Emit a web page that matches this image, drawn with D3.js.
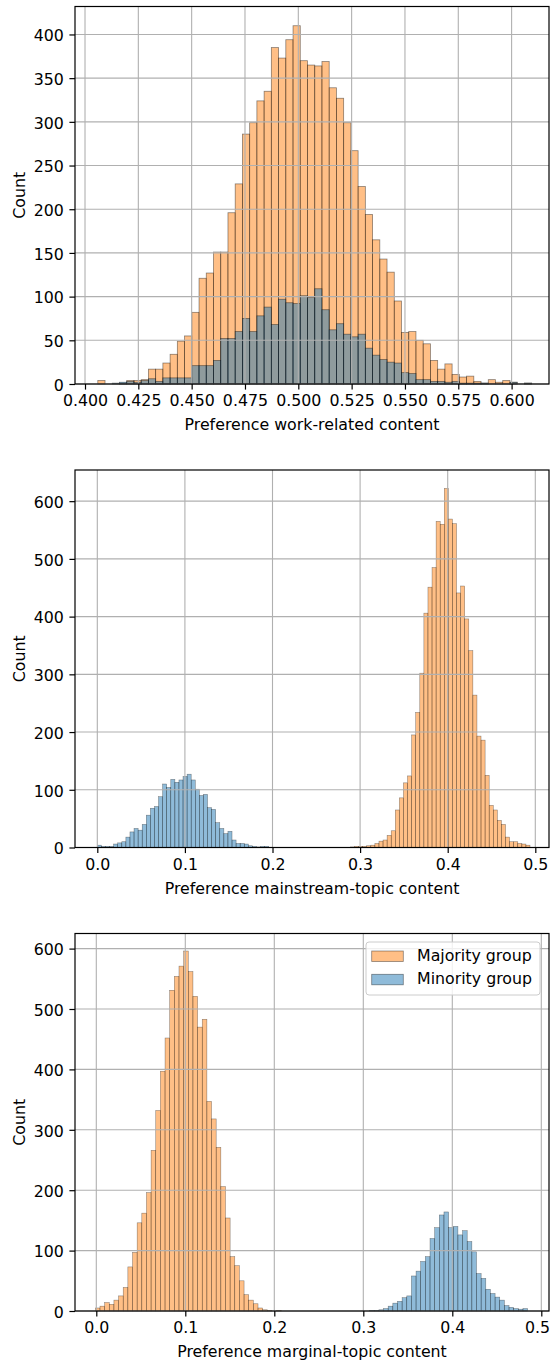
<!DOCTYPE html>
<html><head><meta charset="utf-8">
<script src="https://cdn.jsdelivr.net/npm/d3@7"></script>
<style>
body{margin:0;background:#fff}
text{font-family:"DejaVu Sans",sans-serif}
</style>
</head><body>
<svg id="chart" width="551" height="1363"></svg>
<script>
// ---------------- DATA ----------------
const groups = ["Majority group", "Minority group"];
const groupColors = ["#ff7f0e", "#1f77b4"];

// Panel 1: Preference work-related content (60 bins)
const p1BinStart = 0.406, p1BinWidth = 0.00339;
const p1Majority = [4,0,0,1,4,4,5,17,17,24, 34,49,55,82,121,127,151,151,196,229,
  286,299,324,335,385,373,394,410,370,365, 364,369,339,327,299,267,226,194,165,143,
  128,95,59,60,50,46,27,17,23,11, 8,9,3,1,5,2,4,2,0,1];
const p1Minority = [0,0,1,2,3,2,4,6,3,7, 7,7,7,21,21,21,27,52,52,60,
  75,60,78,88,68,97,93,92,101,99, 109,85,62,69,57,54,57,41,33,28,
  25,24,13,12,5,5,3,3,2,3, 1,1,1,1,0,0,0,2,0,1];

// Panel 2: Preference mainstream-topic content (106 bins)
const p2BinStart = 0.0, p2BinWidth = 0.00466;
const p2Majority = [0,0,0,0,0,0,0,0,0,0, 0,0,0,0,0,0,0,0,0,0,
  0,0,0,0,0,0,0,0,0,0, 0,0,0,0,0,0,0,0,0,0,
  0,0,0,0,0,0,0,0,0,0, 0,0,0,0,0,0,0,0,0,0,
  0,0,1,2,2,2,3,4,7,11, 13,21,29,65,86,112,124,195,234,302,
  406,451,485,565,560,622,569,561,441,453, 396,341,264,193,186,125,73,65,47,40,
  18,10,10,7,6,4];
const p2Minority = [4,2,2,2,6,8,10,18,27,33, 30,40,56,68,71,88,110,104,118,113,
  117,123,127,117,101,90,92,69,66,43, 33,24,28,13,7,7,6,3,2,1,
  2,2,0,0,0,0,0,0,0,0, 0,0,0,0,0,0,0,0,0,0,
  0,0,0,0,0,0,0,0,0,0, 0,0,0,0,0,0,0,0,0,0,
  0,0,0,0,0,0,0,0,0,0, 0,0,0,0,0,0,0,0,0,0,
  0,0,0,0,0,0];

// Panel 3: Preference marginal-topic content (93 bins)
const p3BinStart = -0.0011, p3BinWidth = 0.005223;
const p3Majority = [5,8,14,11,18,25,39,73,97,146, 162,196,266,332,397,452,531,554,571,596,
  562,521,470,483,347,318,271,206,154,90, 75,50,27,18,12,5,2,1,0,1,
  0,0,0,0,0,0,0,0,0,0, 0,0,0,0,0,0,0,0,0,0,
  0,0,0,0,0,0,0,0,0,0, 0,0,0,0,0,0,0,0,0,0,
  0,0,0,0,0,0,0,0,0,0, 0,0,0];
const p3Minority = [0,0,0,0,0,0,0,0,0,0, 0,0,0,0,0,0,0,0,0,0,
  0,0,0,0,0,0,0,0,0,0, 0,0,0,0,0,0,0,0,0,0,
  0,0,0,0,0,0,0,0,0,0, 0,0,0,0,0,0,0,0,0,1,
  1,2,4,8,13,16,22,25,58,66, 82,90,120,138,159,164,138,140,126,133,
  115,98,62,54,36,29,23,18,9,6, 4,3,4];

const p1XDomain = [0.39531, 0.61753], p1YDomain = [0, 432];
const p2XDomain = [-0.02546, 0.51564], p2YDomain = [0, 654];
const p3XDomain = [-0.02393, 0.50865], p3YDomain = [0, 625];

const p1XTicks = [0.400,0.425,0.450,0.475,0.500,0.525,0.550,0.575,0.600];
const p1YTicks = [0,50,100,150,200,250,300,350,400];
const p23XTicks = [0.0,0.1,0.2,0.3,0.4,0.5];
const p23YTicks = [0,100,200,300,400,500,600];

const xLabels = ["Preference work-related content",
                 "Preference mainstream-topic content",
                 "Preference marginal-topic content"];
const yLabel = "Count";

// ---------------- LAYOUT ----------------
const FS = 15.8;
const W = 551;
const plotLeft = 75, plotRight = 549, plotH = 377.5;
const plotTops = [6.5, 470, 933.5];

const panels = [
  {start:p1BinStart, width:p1BinWidth, series:[p1Majority,p1Minority], xd:p1XDomain, yd:p1YDomain,
   xt:p1XTicks, yt:p1YTicks, xf:d3.format(".3f"), label:xLabels[0], legend:false},
  {start:p2BinStart, width:p2BinWidth, series:[p2Majority,p2Minority], xd:p2XDomain, yd:p2YDomain,
   xt:p23XTicks, yt:p23YTicks, xf:d3.format(".1f"), label:xLabels[1], legend:false},
  {start:p3BinStart, width:p3BinWidth, series:[p3Majority,p3Minority], xd:p3XDomain, yd:p3YDomain,
   xt:p23XTicks, yt:p23YTicks, xf:d3.format(".1f"), label:xLabels[2], legend:true}
];

const svg = d3.select("#chart");
svg.append("rect").attr("width",551).attr("height",1363).attr("fill","#fff");

panels.forEach((p, i) => {
  const top = plotTops[i], bottom = top + plotH;
  const x = d3.scaleLinear().domain(p.xd).range([plotLeft, plotRight]);
  const y = d3.scaleLinear().domain(p.yd).range([bottom, top]);
  const g = svg.append("g");
  const lw = i === 0 ? 0.8 : 0.55;

  // bars: majority first, minority layered on top
  p.series.forEach((counts, s) => {
    const bins = counts.map((c, k) => ({x0: p.start + k*p.width, x1: p.start + (k+1)*p.width, c}))
                       .filter(d => d.c > 0);
    g.append("g").selectAll("rect").data(bins).join("rect")
      .attr("x", d => x(d.x0))
      .attr("width", d => x(d.x1) - x(d.x0))
      .attr("y", d => y(d.c))
      .attr("height", d => y(0) - y(d.c))
      .attr("fill", groupColors[s]).attr("fill-opacity", 0.5)
      .attr("stroke", "#000").attr("stroke-opacity", 0.45).attr("stroke-width", lw);
  });

  // grid (above bars like matplotlib)
  const grid = g.append("g").attr("stroke", "#b0b0b0").attr("stroke-width", 1.1);
  p.xt.forEach(t => grid.append("line").attr("x1", x(t)).attr("x2", x(t)).attr("y1", top).attr("y2", bottom));
  p.yt.forEach(t => grid.append("line").attr("x1", plotLeft).attr("x2", plotRight).attr("y1", y(t)).attr("y2", y(t)));

  // axes
  const xa = g.append("g").attr("transform", `translate(0,${bottom})`)
    .call(d3.axisBottom(x).tickValues(p.xt).tickFormat(p.xf).tickSize(5.6).tickPadding(5.6));
  const ya = g.append("g").attr("transform", `translate(${plotLeft},0)`)
    .call(d3.axisLeft(y).tickValues(p.yt).tickFormat(d3.format("d")).tickSize(5.6).tickPadding(5.6));
  [xa, ya].forEach(a => {
    a.select(".domain").remove();
    a.selectAll(".tick line").attr("stroke", "#000").attr("stroke-width", 1.2);
    a.selectAll(".tick text").attr("fill", "#000").style("font-size", FS + "px")
      .style("font-family", "DejaVu Sans");
  });
  ya.selectAll(".tick text").attr("dy", "0.4em");
  // keep right-most tick label inside the picture
  xa.selectAll(".tick").each(function() {
    const tr = d3.select(this);
    const t = tr.select("text").node();
    const box = t.getBBox();
    const m = this.transform.baseVal.consolidate().matrix.e;
    const over = m + box.x + box.width - (W - 1);
    if (over > 0) tr.select("text").attr("x", -over);
  });

  // spines
  g.append("rect").attr("x", plotLeft).attr("y", top).attr("width", plotRight - plotLeft).attr("height", plotH)
    .attr("fill", "none").attr("stroke", "#000").attr("stroke-width", 1.2);

  // labels
  g.append("text").attr("x", (plotLeft + plotRight)/2).attr("y", bottom + 46)
    .attr("text-anchor", "middle").style("font-size", FS + "px").text(p.label);
  g.append("text").attr("transform", `translate(24.5,${(top+bottom)/2}) rotate(-90)`)
    .attr("text-anchor", "middle").style("font-size", FS + "px").text(yLabel);

  if (p.legend) {
    const lg = g.append("g");
    const lx = 366, ly = top + 8.5, lwid = 174, lh = 53;
    lg.append("rect").attr("x", lx).attr("y", ly).attr("width", lwid).attr("height", lh)
      .attr("rx", 3).attr("fill", "#fff").attr("fill-opacity", 0.8)
      .attr("stroke", "#cccccc").attr("stroke-width", 1);
    groups.forEach((name, s) => {
      const rowBase = ly + 19 + s*23.3;
      lg.append("rect").attr("x", lx + 5.7).attr("y", rowBase - 10).attr("width", 31.6).attr("height", 10.5)
        .attr("fill", groupColors[s]).attr("fill-opacity", 0.5)
        .attr("stroke", "#000").attr("stroke-opacity", 0.45).attr("stroke-width", 0.8);
      lg.append("text").attr("x", lx + 51).attr("y", rowBase)
        .style("font-size", FS + "px").text(name);
    });
  }
});
</script>
</body></html>
